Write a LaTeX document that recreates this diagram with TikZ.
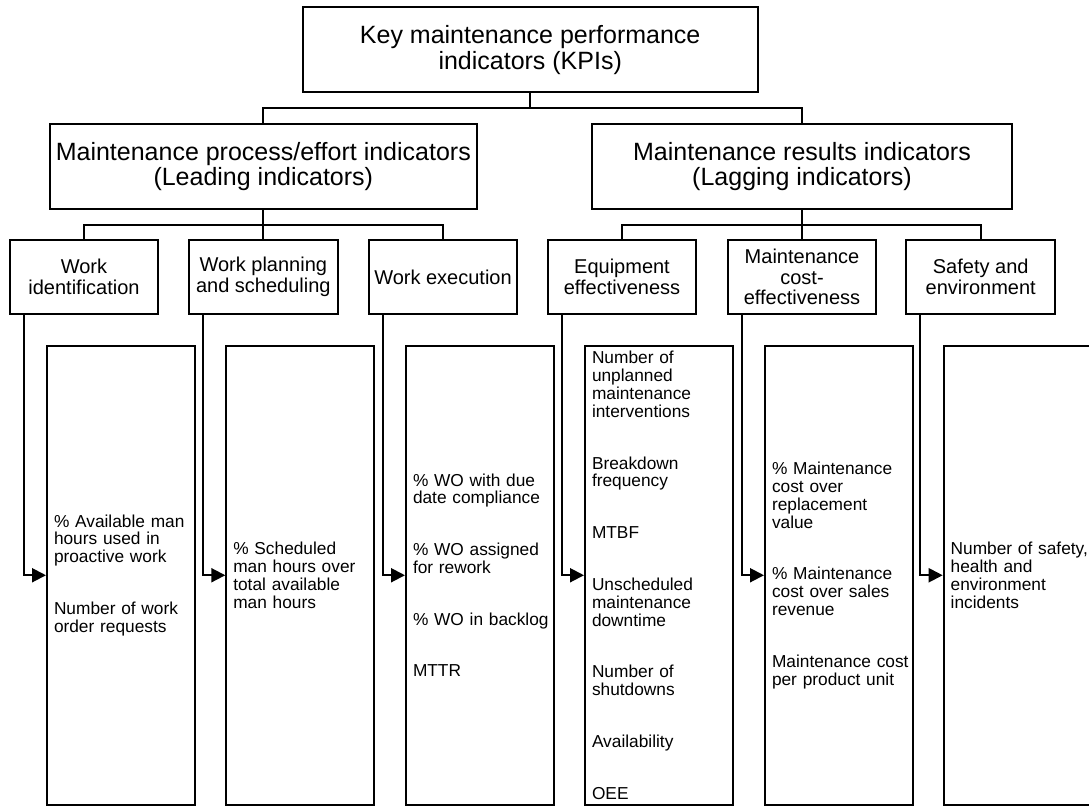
\documentclass[tikz,border=0pt]{standalone}
\usepackage{fontspec}
\setmainfont{Liberation Sans}
\usetikzlibrary{arrows.meta}
\begin{document}
\begin{tikzpicture}[x=1pt,y=-1pt,
  every node/.style={inner sep=0pt},
  box/.style={draw, line width=2pt, rectangle, align=center},
  topbox/.style={box, minimum width=455pt, minimum height=84.7pt, font=\fontsize{25}{25.8}\selectfont},
  midbox/.style={box, minimum height=85pt, font=\fontsize{25}{25.8}\selectfont},
  catbox/.style={box, minimum width=148.5pt, minimum height=74pt, font=\fontsize{20}{20.7}\selectfont},
  listbox/.style={draw, line width=2pt, rectangle, minimum height=459.5pt, text width=134pt, inner xsep=7pt, align=left,
    font=\fontsize{17.3}{17.9}\selectfont,
    execute at begin node={\hyphenpenalty=10000\exhyphenpenalty=10000\hbadness=10000\hfuzz=20pt}},
  conn/.style={line width=2pt},
  feed/.style={conn, -{Triangle[length=14pt,width=14pt]}}
]
\useasboundingbox (0,0) rectangle (1089,807);

\node[topbox] (kpi) at (530.2,49.65) {Key maintenance performance\\indicators (KPIs)};
\node[midbox, minimum width=426.7pt] (lead) at (263.3,166.5) {Maintenance process/effort indicators\\(Leading indicators)};
\node[midbox, minimum width=420.3pt] (lag) at (802,166.5) {Maintenance results indicators\\(Lagging indicators)};

\node[catbox] (wi) at (84,277) {Work\\identification};
\node[catbox] (wp) at (263.3,277) {Work planning\\and scheduling};
\node[catbox] (we) at (443,277) {Work execution};
\node[catbox] (eq) at (622,277) {Equipment\\effectiveness};
\node[catbox] (mc) at (802,277) {Maintenance\\cost-\\effectiveness};
\node[catbox] (se) at (980.7,277) {Safety and\\environment};

\node[listbox] (wid) at (121,575.25) {\%~Available~man\\hours~used~in\\proactive~work\\[33.8pt]Number~of~work\\order~requests};
\node[listbox] (wpd) at (300.3,575.25) {\%~Scheduled\\man~hours~over\\total~available\\man~hours};
\node[listbox] (wed) at (480,575.25) {\%~WO~with~due\\date~compliance\\[33.8pt]\%~WO~assigned\\for~rework\\[33.8pt]\%~WO~in~backlog\\[33.8pt]MTTR};
\node[listbox] (eqd) at (659,575.25) {Number~of\\unplanned\\maintenance\\interventions\\[33.8pt]Breakdown\\frequency\\[33.8pt]MTBF\\[33.8pt]Unscheduled\\maintenance\\downtime\\[33.8pt]Number~of\\shutdowns\\[33.8pt]Availability\\[33.8pt]OEE};
\node[listbox] (mcd) at (839,575.25) {\%~Maintenance\\cost~over\\replacement\\value\\[33.8pt]\%~Maintenance\\cost~over~sales\\revenue\\[33.8pt]Maintenance~cost\\per~product~unit};
\node[listbox] (sed) at (1017.7,575.25) {Number~of~safety,\\health~and\\environment\\incidents};

\coordinate (j0) at (530.2,107.7);
\draw[conn] (kpi.south) -- (j0);
\draw[conn] (lead.north) |- (j0) -| (lag.north);

\coordinate (j1) at (263.3,225);
\draw[conn] (lead.south) -- (j1);
\draw[conn] (wi.north) |- (j1) -| (we.north);
\draw[conn] (j1) -- (wp.north);

\coordinate (j2) at (802,225);
\draw[conn] (lag.south) -- (j2);
\draw[conn] (eq.north) |- (j2) -| (se.north);
\draw[conn] (j2) -- (mc.north);

\draw[feed] ([xshift=15pt]wi.south west) |- (wid.west);
\draw[feed] ([xshift=15pt]wp.south west) |- (wpd.west);
\draw[feed] ([xshift=15pt]we.south west) |- (wed.west);
\draw[feed] ([xshift=15pt]eq.south west) |- (eqd.west);
\draw[feed] ([xshift=15pt]mc.south west) |- (mcd.west);
\draw[feed] ([xshift=15pt]se.south west) |- (sed.west);
\end{tikzpicture}
\end{document}
